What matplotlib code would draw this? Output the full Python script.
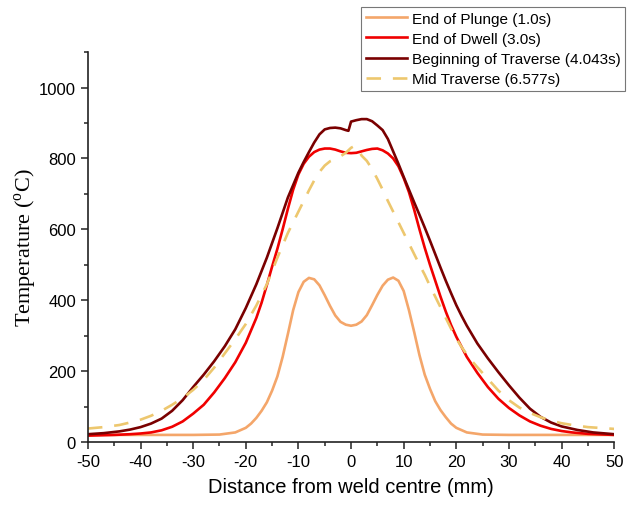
import matplotlib
matplotlib.use("Agg")
import matplotlib.pyplot as plt
from matplotlib.ticker import MultipleLocator

plt.rcParams['font.family'] = ['Liberation Sans', 'DejaVu Sans']
plt.rcParams['mathtext.fontset'] = 'custom'
plt.rcParams['mathtext.rm'] = 'Liberation Serif'
plt.rcParams['axes.unicode_minus'] = False

# End of Plunge (1.0s)
plunge_x = [-50, -30, -25, -22, -20, -19, -18, -17, -16, -15, -14, -13, -12, -11, -10, -9, -8, -7, -6, -5, -4, -3, -2, -1,
            0, 1, 2, 3, 4, 5, 6, 7, 8, 9, 10, 11, 12, 13, 14, 15, 16, 17, 18, 19, 20, 22, 25, 30, 50]
plunge_t = [20, 20, 21, 27, 40, 52, 68, 88, 112, 145, 185, 240, 305, 372, 423, 452, 463, 459, 442, 414, 384, 357, 339, 331,
            328, 331, 340, 358, 386, 415, 441, 458, 464, 455, 426, 372, 310, 245, 190, 150, 115, 90, 70, 52, 40, 27, 21, 20, 20]

# End of Dwell (3.0s)
dwell_x = [-50, -45, -42, -40, -38, -36, -34, -32, -30, -28, -26, -24, -22, -20, -18, -17, -16, -15, -14, -13, -12, -11,
           -10, -9, -8, -7, -6, -5, -4, -3, -2, -1, 0, 1, 2, 3, 4, 5, 6, 7, 8, 9, 10, 11, 12, 13, 14, 15, 16, 17,
           18, 19, 20, 22, 24, 26, 28, 30, 32, 34, 36, 38, 40, 42, 45, 50]
dwell_t = [18, 20, 22, 24, 27, 33, 43, 58, 80, 105, 140, 180, 225, 280, 350, 393, 443, 495, 545, 600, 658, 712,
           755, 785, 805, 818, 825, 828, 828, 825, 820, 816, 815, 816, 820, 824, 827, 828, 823, 814, 800, 778, 745, 705,
           655, 600, 548, 500, 455, 410, 368, 330, 297, 240, 195, 155, 122, 96, 75, 58, 46, 37, 31, 27, 23, 20]

# Beginning of Traverse (4.043s)
trav_x = [-50, -47, -44, -42, -40, -38, -36, -34, -32, -30, -28, -26, -24, -22, -20, -18, -16, -14, -12, -10, -9, -8,
          -7, -6, -5, -4, -3, -2, -1, -0.5, 0, 1, 2, 3, 4, 5, 6, 7, 8, 9, 10, 11, 12, 13, 14, 15, 16, 17, 18, 19,
          20, 21, 22, 24, 26, 28, 30, 32, 34, 36, 38, 40, 43, 46, 50]
trav_t = [22, 25, 30, 35, 42, 52, 66, 88, 118, 155, 190, 228, 270, 318, 378, 445, 520, 603, 690, 760, 790, 818,
          845, 868, 882, 886, 887, 885, 880, 878, 904, 908, 911, 911, 905, 893, 880, 855, 820, 785, 748, 712, 676, 641,
          605, 568, 530, 492, 455, 420, 386, 356, 328, 278, 236, 197, 160, 125, 94, 71, 55, 44, 34, 27, 22]

# Mid Traverse (6.577s)
mid_x = [-50, -47, -44, -42, -40, -38, -36, -34, -32, -30, -28, -26, -24, -22, -20, -18, -16, -14, -12, -10, -9, -8,
         -7, -6, -5, -4, -3, -2, -1, 0, 0.5, 1, 1.5, 2, 3, 4, 5, 6, 7, 8, 9, 10, 11, 12, 13, 14, 15, 16, 17, 18,
         19, 20, 21, 22, 23, 24, 26, 28, 30, 32, 34, 36, 38, 40, 42, 45, 50]
mid_t = [38, 42, 48, 55, 63, 74, 88, 105, 124, 147, 175, 210, 250, 290, 333, 385, 445, 520, 590, 650, 680, 710,
         738, 762, 780, 792, 798, 806, 816, 830, 834, 833, 822, 808, 793, 770, 742, 712, 680, 650, 620, 590, 560, 530,
         500, 472, 440, 410, 380, 350, 320, 292, 268, 247, 228, 211, 178, 145, 118, 97, 82, 70, 60, 53, 48, 42, 37]

fig = plt.figure(figsize=(6.28, 5.06), dpi=100)
ax = fig.add_axes([0.140, 0.1245, 0.838, 0.7705])

lw = 1.9
ax.plot(plunge_x, plunge_t, color='#F4A66A', lw=lw, label='End of Plunge (1.0s)')
ax.plot(dwell_x, dwell_t, color='#F00000', lw=lw, label='End of Dwell (3.0s)')
ax.plot(trav_x, trav_t, color='#7A0000', lw=lw, label='Beginning of Traverse (4.043s)')
ax.plot(mid_x, mid_t, color='#EDC76E', lw=lw, ls=(0, (5.5, 4.5)), label='Mid Traverse (6.577s)')

ax.set_xlim(-50, 50)
ax.set_ylim(0, 1100)
ax.xaxis.set_major_locator(MultipleLocator(10))
ax.xaxis.set_minor_locator(MultipleLocator(5))
ax.yaxis.set_minor_locator(MultipleLocator(100))
ax.set_yticks([0, 200, 400, 600, 800, 1000])

for s in ['top', 'right']:
    ax.spines[s].set_visible(False)
for s in ['left', 'bottom']:
    ax.spines[s].set_linewidth(1.2)
    ax.spines[s].set_color('#222222')
ax.tick_params(which='major', direction='out', length=5, width=1.1, labelsize=12, color='#222222')
ax.tick_params(which='minor', direction='out', length=3, width=1.1, color='#222222')

ax.set_xlabel('Distance from weld centre (mm)', fontsize=14.5, labelpad=6)
ax.set_ylabel(r'Temperature ($^{\mathrm{o}}$C)', fontsize=16, family='Liberation Serif', labelpad=0)

leg = fig.legend(loc='upper right', bbox_to_anchor=(0.995, 0.984), fontsize=11, frameon=True,
                 fancybox=False, borderpad=0.3, labelspacing=0.4, handlelength=2.7,
                 handletextpad=0.3, borderaxespad=0)
leg.get_frame().set_edgecolor('#555555')
leg.get_frame().set_linewidth(0.8)

fig.savefig('out.png', dpi=100)
